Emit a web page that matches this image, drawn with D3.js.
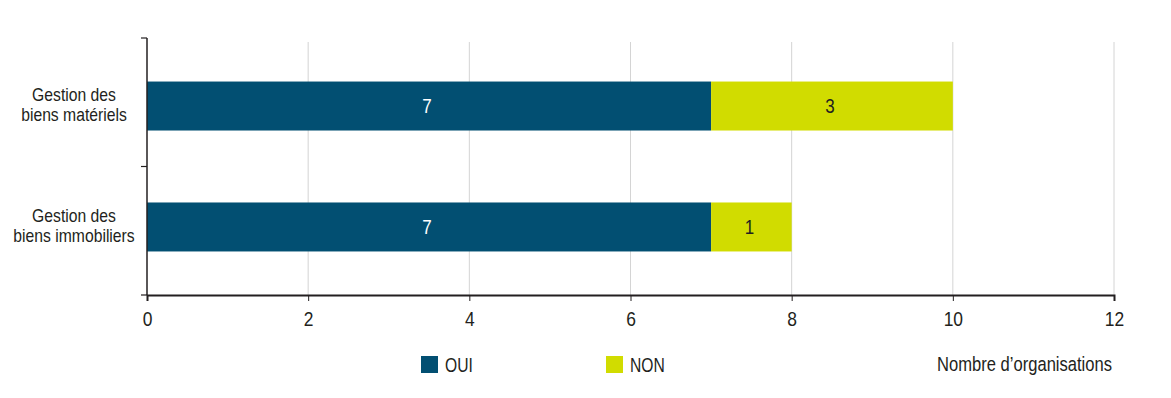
<!DOCTYPE html>
<html>
<head>
<meta charset="utf-8">
<script src="https://cdn.jsdelivr.net/npm/d3@7"></script>
<style>
  body { margin: 0; background: #fff; }
  text { font-family: "Liberation Sans", Arial, sans-serif; fill: #231f20; }
</style>
</head>
<body>
<svg id="drawing_region"></svg>
<script>
// data
const categories = [
    ['Gestion des', 'biens matériels'],
    ['Gestion des', 'biens immobiliers']
];
const seriesNames = ['OUI', 'NON'];
const oui = [7, 7];
const non = [3, 1];
const xticks = [0, 2, 4, 6, 8, 10, 12];
const xlabel = 'Nombre d\u2019organisations';

const colors = { OUI: '#024f72', NON: '#d1dc00' };

const config = {
    width: 1171,
    height: 398,
    margin: { top: 38, right: 57, bottom: 103, left: 147 }
};

// horizontal squeeze to get a condensed look
const narrow = 0.85;

const svg = d3.select('#drawing_region')
    .attr('width', config.width)
    .attr('height', config.height);

const inner_width = config.width - config.margin.left - config.margin.right;
const inner_height = config.height - config.margin.top - config.margin.bottom;

const chart = svg.append('g')
    .attr('transform', `translate(${config.margin.left}, ${config.margin.top})`);

const keys = categories.map(c => c.join(' '));
const rows = keys.map((k, i) => ({ key: k, OUI: oui[i], NON: non[i] }));
const stacked = d3.stack().keys(seriesNames)(rows);

const xscale = d3.scaleLinear()
    .domain([0, 12])
    .range([0, inner_width]);

// bands for the axis ticks (category boundaries)
const yband = d3.scaleBand()
    .domain(keys)
    .range([0, inner_height])
    .padding(0);

// bands for the bars
const ybar = d3.scaleBand()
    .domain(keys)
    .range([0, inner_height])
    .paddingInner(0.595)
    .paddingOuter(0.36);

// grid lines
chart.append('g')
    .selectAll('line')
    .data(xticks.filter(d => d > 0))
    .join('line')
    .attr('x1', d => xscale(d))
    .attr('x2', d => xscale(d))
    .attr('y1', 4)
    .attr('y2', inner_height)
    .attr('stroke', '#d4d4d4')
    .attr('stroke-width', 1);

// bars
const layers = chart.selectAll('.layer')
    .data(stacked)
    .join('g')
    .attr('class', 'layer')
    .attr('fill', d => colors[d.key]);

layers.selectAll('rect')
    .data(d => d)
    .join('rect')
    .attr('x', d => xscale(d[0]))
    .attr('y', d => ybar(d.data.key))
    .attr('width', d => xscale(d[1]) - xscale(d[0]))
    .attr('height', ybar.bandwidth());

// value labels
layers.selectAll('text')
    .data(d => d.map(v => Object.assign({ series: d.key }, v)))
    .join('text')
    .attr('transform', d => `translate(${(xscale(d[0]) + xscale(d[1])) / 2 - 2}, ${ybar(d.data.key) + ybar.bandwidth() / 2}) scale(${narrow},1)`)
    .attr('dy', '0.36em')
    .attr('text-anchor', 'middle')
    .style('font-size', '20px')
    .style('fill', d => d.series === 'OUI' ? '#ffffff' : '#231f20')
    .text(d => d[1] - d[0]);

// x axis
const xaxis = d3.axisBottom(xscale)
    .tickValues(xticks)
    .tickSize(6)
    .tickPadding(10);

const xaxis_group = chart.append('g')
    .attr('transform', `translate(0, ${inner_height})`)
    .call(xaxis);
xaxis_group.select('.domain').attr('stroke', '#231f20').attr('stroke-width', 2);
xaxis_group.selectAll('.tick line').attr('stroke', '#231f20');
xaxis_group.selectAll('.tick text')
    .style('font-size', '20.5px')
    .style('font-family', '"Liberation Sans", Arial, sans-serif')
    .attr('fill', '#231f20')
    .attr('transform', `scale(${narrow},1)`);

// y axis (ticks at category boundaries)
const bounds = [0].concat(keys.map(k => yband(k) + yband.bandwidth()));
chart.append('line')
    .attr('x1', 0).attr('x2', 0)
    .attr('y1', 0).attr('y2', inner_height)
    .attr('stroke', '#231f20')
    .attr('stroke-width', 1.5);
chart.append('g')
    .selectAll('line')
    .data(bounds)
    .join('line')
    .attr('x1', -6).attr('x2', 0)
    .attr('y1', d => d).attr('y2', d => d)
    .attr('stroke', '#231f20')
    .attr('stroke-width', 1.2);

// category labels
const label_x = -73;
chart.append('g')
    .selectAll('text')
    .data(categories)
    .join('text')
    .attr('text-anchor', 'middle')
    .attr('transform', (d, i) => `translate(${label_x}, ${ybar(keys[i]) + ybar.bandwidth() / 2 - 1.5}) scale(${narrow},1)`)
    .style('font-size', '18.5px')
    .each(function(d) {
        const t = d3.select(this);
        d.forEach((line, j) => {
            t.append('tspan')
                .attr('x', 0)
                .attr('y', (j - (d.length - 1) / 2) * 20)
                .attr('dy', '0.36em')
                .text(line);
        });
    });

// legend
const legend = svg.append('g')
    .attr('transform', 'translate(421, 356)');
const legend_x = [0, 185];
seriesNames.forEach((s, i) => {
    const g = legend.append('g').attr('transform', `translate(${legend_x[i]}, 0)`);
    g.append('rect')
        .attr('width', 17)
        .attr('height', 17)
        .attr('fill', colors[s]);
    g.append('text')
        .attr('transform', `translate(24, 16) scale(${narrow * 0.92},1)`)
        .style('font-size', '20px')
        .text(s);
});

svg.append('text')
    .attr('transform', `translate(1112, 371) scale(${narrow},1)`)
    .attr('text-anchor', 'end')
    .style('font-size', '19.5px')
    .text(xlabel);
</script>
</body>
</html>
